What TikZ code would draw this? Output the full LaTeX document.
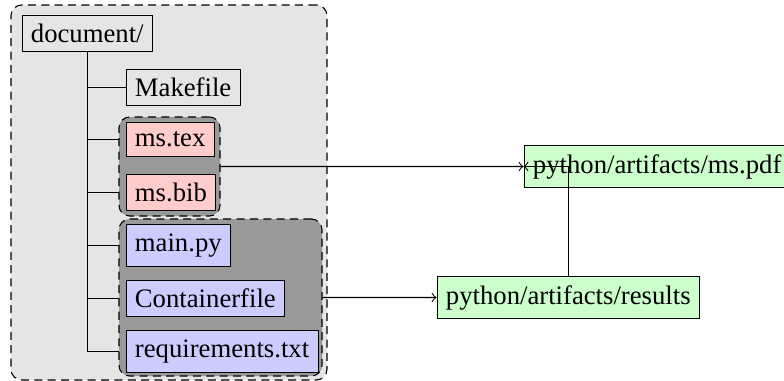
\documentclass[tikz,border=0pt]{standalone}
\usepackage{fontspec}
\setmainfont{Liberation Serif}
\usetikzlibrary{fit}
\pgfdeclarelayer{bg}
\pgfdeclarelayer{edges}
\pgfdeclarelayer{grp}
\pgfsetlayers{bg,edges,grp,main}
\begin{document}
\begin{tikzpicture}[x=0.3745pt,y=-0.3745pt,
  file/.style={draw,anchor=west,font=\rmfamily\fontsize{10}{12}\selectfont},
  plain/.style={file},
  texf/.style={file,fill=red!20},
  pyf/.style={file,fill=blue!20},
  outf/.style={file,fill=green!20},
  outerbox/.style={draw,dash pattern=on 3pt off 2pt,rounded corners=4pt,fill=gray!20,inner sep=0pt},
  grpbox/.style={draw,dash pattern=on 3pt off 2pt,rounded corners=4pt,fill=gray!80,inner sep=0pt},
  arr/.style={->}]
\useasboundingbox (0,0) rectangle (784,381);
% nodes
\node[plain] (doc) at (21.5,33.5) {document/};
\node[plain] (makefile) at (125.5,87.5) {Makefile};
\node[texf] (mstex) at (125.5,139.5) {ms.tex};
\node[texf] (msbib) at (125.5,192.5) {ms.bib};
\node[pyf] (mainpy) at (125.5,245.5) {main.py};
\node[pyf] (contf) at (125.5,298.5) {Containerfile};
\node[pyf] (req) at (125.5,351.5) {requirements.txt};
\node[outf] (mspdf) at (523.5,166.5) {python/artifacts/ms.pdf};
\node[outf] (results) at (436.5,297.5) {python/artifacts/results};
% groups
\begin{pgfonlayer}{bg}
\node[outerbox,fit={(11,5) (327,380)}] (outer) {};
\end{pgfonlayer}
\begin{pgfonlayer}{grp}
\node[grpbox,fit={(119,117) (220,216)}] (grp1) {};
\node[grpbox,fit={(119,219) (322,376)}] (grp2) {};
\end{pgfonlayer}
% tree
\begin{pgfonlayer}{edges}
\draw (doc.south) |- (req.west)
  (doc.south |- makefile.west) -- (makefile.west)
  (doc.south |- mstex.west) -- (mstex.west)
  (doc.south |- msbib.west) -- (msbib.west)
  (doc.south |- mainpy.west) -- (mainpy.west)
  (doc.south |- contf.west) -- (contf.west);
\end{pgfonlayer}
% arrows
\draw[arr] (grp1.east) -- (mspdf.west);
\draw[arr] (grp2.east) -- (results.west);
\draw[arr] (results.north) |- (mspdf.west);
\end{tikzpicture}
\end{document}
